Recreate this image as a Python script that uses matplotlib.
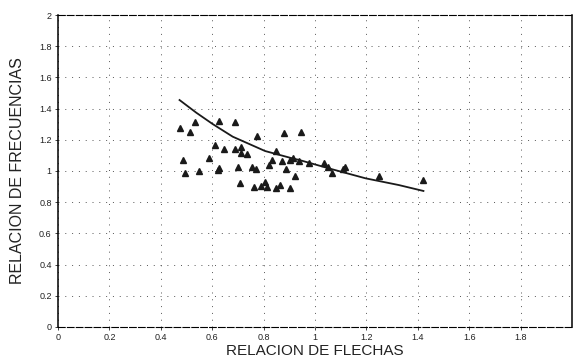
import numpy as np
import matplotlib.pyplot as plt

# measured points (relacion de flechas, relacion de frecuencias)
x_pts = [0.473, 0.535, 0.512, 0.625, 0.690, 0.776, 0.880, 0.945, 0.612, 0.647,
         0.690, 0.713, 0.712, 0.734, 0.850, 0.488, 0.586, 0.834, 0.871, 0.902,
         0.916, 0.938, 0.977, 0.495, 0.547, 0.625, 0.623, 0.700, 0.755, 0.772,
         0.822, 0.886, 0.922, 0.708, 0.761, 0.790, 0.806, 0.815, 0.850, 0.863,
         0.902, 1.035, 1.052, 1.067, 1.116, 1.109, 1.248, 1.422]
y_pts = [1.274, 1.312, 1.252, 1.322, 1.314, 1.226, 1.242, 1.248, 1.167, 1.139,
         1.139, 1.152, 1.117, 1.107, 1.130, 1.071, 1.081, 1.071, 1.064, 1.071,
         1.081, 1.066, 1.049, 0.989, 1.000, 1.017, 1.006, 1.024, 1.024, 1.013,
         1.037, 1.011, 0.968, 0.921, 0.899, 0.906, 0.931, 0.896, 0.889, 0.910,
         0.889, 1.049, 1.024, 0.985, 1.024, 1.013, 0.970, 0.942]

# fitted curve
x_fit = [0.473, 0.538, 0.602, 0.680, 0.806, 0.912, 0.938, 1.067, 1.197, 1.326, 1.422]
y_fit = [1.455, 1.374, 1.301, 1.220, 1.128, 1.081, 1.071, 1.011, 0.953, 0.910, 0.872]

x_ticks = [0, 0.2, 0.4, 0.6, 0.8, 1, 1.2, 1.4, 1.6, 1.8]
x_labels = ["0", "0.2", "0.4", "0.6", "0.8", "1", "1.2", "1.4", "1.6", "1.8"]
y_ticks = [0, 0.2, 0.4, 0.6, 0.8, 1, 1.2, 1.4, 1.6, 1.8, 2]
y_labels = ["0", "0.2", "0.4", "0.6", "0.8", "1", "1.2", "1.4", "1.6", "1.8", "2"]

plt.rcParams['font.family'] = ['Liberation Sans', 'DejaVu Sans']

fig = plt.figure(figsize=(5.74, 3.6), dpi=100)
ax = fig.add_axes([0.101, 0.0917, 0.8955, 0.8666])

ax.plot(x_fit, y_fit, color="#1a1a1a", lw=1.3)
ax.plot(x_pts, y_pts, linestyle="none", marker="^", markersize=4.2,
        color="#1a1a1a")

ax.set_xlim(0, 2)
ax.set_ylim(0, 2)
ax.set_xticks(x_ticks)
ax.set_xticklabels(x_labels)
ax.set_yticks(y_ticks)
ax.set_yticklabels(y_labels)
ax.tick_params(labelsize=6.5, length=2.5, width=0.6, pad=2, colors="#222222")

ax.grid(True, color="#555555", linestyle=(0, (1, 6)), linewidth=0.7)

ax.spines["left"].set_linewidth(1.1)
ax.spines["right"].set_linewidth(1.1)
ax.spines["top"].set_linestyle((0, (6, 2)))
ax.spines["top"].set_linewidth(0.8)
ax.spines["bottom"].set_linestyle((0, (6, 2)))
ax.spines["bottom"].set_linewidth(0.8)

ax.set_xlabel("RELACION DE FLECHAS", fontsize=11, labelpad=1, color="#222222")
ax.set_ylabel("RELACION DE FRECUENCIAS", fontsize=11.5, labelpad=10, color="#222222")

fig.savefig("out.png", dpi=100)
